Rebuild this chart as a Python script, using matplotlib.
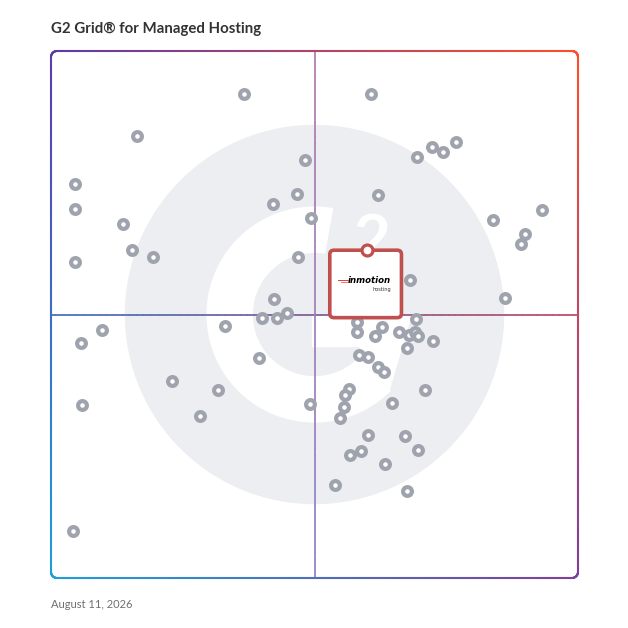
import numpy as np
import matplotlib
matplotlib.use("Agg")
import matplotlib.pyplot as plt
from matplotlib.collections import LineCollection
from matplotlib.patches import Circle, Wedge, Polygon, FancyBboxPatch

# product positions: satisfaction (x) and market presence (y), 0-100
sat = [36.6, 16.3, 4.6, 4.6, 13.7, 15.4, 19.3, 4.6, 48.2, 46.7, 42.1, 49.3, 46.9, 42.3, 44.8, 40.0, 42.8,
       60.7, 69.4, 72.3, 74.4, 76.9, 62.0, 83.9, 93.2, 90.0, 89.2, 68.1, 86.1,
       9.7, 5.7, 33.0, 39.5, 23.0, 31.7, 28.3, 5.9, 49.1, 4.2,
       69.3, 58.0, 58.0, 62.9, 61.5, 66.1, 68.0, 69.1, 69.6, 72.5, 67.6, 58.4, 60.1, 62.0, 63.2,
       56.5, 55.7, 55.6, 54.9, 64.7, 70.9, 60.2, 67.1, 69.7, 56.8, 58.8, 63.3, 53.8, 67.6]
presence = [91.8, 83.9, 74.8, 70.0, 67.1, 62.2, 60.9, 60.0, 79.3, 72.8, 70.9, 68.3, 61.0, 52.9, 50.3, 49.4, 49.3,
            91.8, 79.8, 81.8, 80.8, 82.8, 72.6, 68.0, 69.8, 65.3, 63.4, 56.5, 53.1,
            47.1, 44.6, 47.8, 41.7, 37.4, 35.6, 30.8, 32.9, 33.1, 8.9,
            49.1, 48.6, 46.7, 47.7, 45.9, 46.6, 46.1, 46.6, 45.9, 45.0, 43.6, 42.4, 41.9, 40.1, 39.0,
            35.8, 34.7, 32.5, 30.3, 33.2, 35.6, 27.1, 26.9, 24.3, 23.3, 24.1, 21.6, 17.6, 16.5]

# highlighted product
hl_name = "inmotion"
hl_sub = "hosting"
hl_x, hl_y = 59.9, 62.2

title = "G2 Grid\u00ae for Managed Hosting"
date_txt = "August 11, 2026"

# corner colours of the border gradient
c_tl = np.array([91, 60, 168]) / 255
c_tr = np.array([255, 79, 43]) / 255
c_bl = np.array([31, 159, 217]) / 255
c_br = np.array([126, 63, 158]) / 255


def bilin(x, y):
    u = np.clip(x / 100, 0, 1)[:, None]
    v = np.clip(y / 100, 0, 1)[:, None]
    return (1 - u) * (1 - v) * c_bl + u * (1 - v) * c_br + (1 - u) * v * c_tl + u * v * c_tr


def grad_line(ax, xs, ys, cols, lw, z, alpha=1.0):
    pts = np.column_stack([xs, ys]).reshape(-1, 1, 2)
    segs = np.concatenate([pts[:-1], pts[1:]], axis=1)
    lc = LineCollection(segs, colors=cols[:-1], linewidths=lw, zorder=z,
                        capstyle="round", alpha=alpha, clip_on=False)
    ax.add_collection(lc)


fig = plt.figure(figsize=(6.28, 6.28), dpi=100)
fig.patch.set_facecolor("white")
ax = fig.add_axes([51 / 628, 50 / 628, 527 / 628, 527 / 628])
ax.set_xlim(0, 100)
ax.set_ylim(0, 100)
ax.axis("off")

# G2 watermark
wm = "#eceef1"
ax.add_patch(Circle((50, 50), 36.0, color=wm, zorder=1, lw=0))
ax.add_patch(Wedge((50, 50), 20.5, 80, 315, width=8.8, color="white", zorder=1.1, lw=0))
ax.add_patch(Polygon([(49.5, 49.9), (68.5, 49.9), (64.3, 35.7), (58.3, 41.7), (58.6, 43.8), (49.5, 43.8)],
                     closed=True, color="white", zorder=1.1, lw=0))
ax.text(61.0, 63.8, "2", color="white", fontsize=46, fontweight="bold", family="Lato",
        ha="center", va="center", zorder=1.2)

# quadrant dividers
t = np.linspace(0, 100, 300)
grad_line(ax, t, np.full_like(t, 50), bilin(t, np.full_like(t, 50)), 1.1, 2)
top_c = np.array([176, 122, 170]) / 255
bot_c = np.array([142, 130, 200]) / 255
vcols = bot_c + (top_c - bot_c) * (t / 100)[:, None]
grad_line(ax, np.full_like(t, 50), t, vcols, 1.1, 2)

# products
ax.scatter(sat, presence, s=40, facecolor="white", edgecolor="#9ea3ae", linewidth=3.0, zorder=3)

# highlighted product card
box_w, box_h = 13.6, 12.8
red = "#c0504d"
ax.add_patch(FancyBboxPatch((hl_x - box_w / 2 - 0.2, hl_y - box_h), box_w, box_h,
                            boxstyle="round,pad=0,rounding_size=0.8",
                            facecolor="white", edgecolor=red, linewidth=2.6, zorder=4))
ax.text(hl_x + 0.5, hl_y - 5.8, hl_name, fontsize=6.2, fontweight="bold", style="italic",
        color="black", ha="center", va="center", zorder=5)
ax.text(hl_x + 2.8, hl_y - 7.4, hl_sub, fontsize=3.6, color="#333333",
        ha="center", va="center", zorder=5)
ax.plot([hl_x - 5.4, hl_x - 3.5], [hl_y - 5.6, hl_y - 5.6], color="#e0403a", lw=0.7, zorder=5)
ax.plot([hl_x - 4.8, hl_x - 3.5], [hl_y - 6.0, hl_y - 6.0], color="#e0403a", lw=0.5, zorder=5)
ax.scatter([hl_x], [hl_y], s=62, facecolor="white", edgecolor=red, linewidth=2.3, zorder=6)

# rounded gradient border
r = 1.15
n = 200
xs, ys = [], []
def seg(x0, y0, x1, y1):
    xs.extend(np.linspace(x0, x1, n)); ys.extend(np.linspace(y0, y1, n))
def arc(cx, cy, a0, a1):
    a = np.radians(np.linspace(a0, a1, 30))
    xs.extend(cx + r * np.cos(a)); ys.extend(cy + r * np.sin(a))
seg(r, 0, 100 - r, 0)
arc(100 - r, r, -90, 0)
seg(100, r, 100, 100 - r)
arc(100 - r, 100 - r, 0, 90)
seg(100 - r, 100, r, 100)
arc(r, 100 - r, 90, 180)
seg(0, 100 - r, 0, r)
arc(r, r, 180, 270)
xs.append(xs[0]); ys.append(ys[0])
xs = np.array(xs); ys = np.array(ys)
grad_line(ax, xs, ys, bilin(xs, ys), 1.5, 7)

fig.text(51 / 628, 1 - 29 / 628, title, fontsize=10.8, fontweight="bold", family="Lato",
         color="#333333", va="center", ha="left")
fig.text(51 / 628, 1 - 604 / 628, date_txt, fontsize=8, family="Lato",
         color="#707070", va="center", ha="left")

fig.savefig("out.png", dpi=100, facecolor="white")
